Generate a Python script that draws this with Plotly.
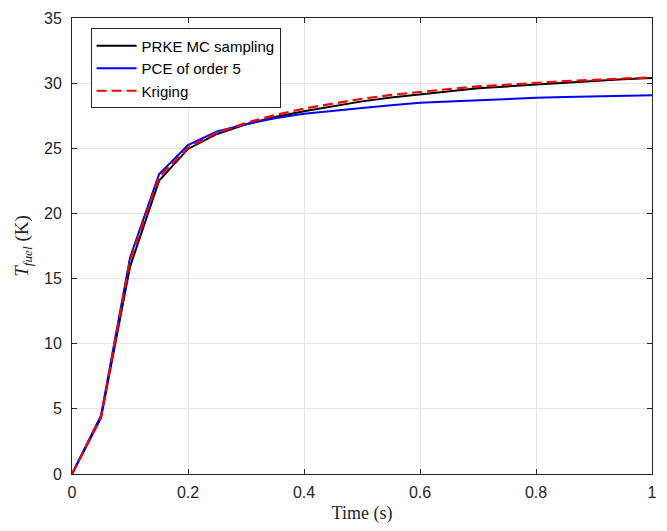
import plotly.graph_objects as go

time = [0.0, 0.05, 0.1, 0.15, 0.2, 0.25, 0.3, 0.35, 0.4, 0.45, 0.5,
        0.55, 0.6, 0.65, 0.7, 0.75, 0.8, 0.85, 0.9, 0.95, 1.0]
prke_mc = [0, 4.3, 15.9, 22.5, 24.95, 26.1, 26.85, 27.4, 27.85, 28.25, 28.6,
           28.9, 29.15, 29.4, 29.6, 29.75, 29.9, 30.05, 30.15, 30.3, 30.4]
pce5 = [0, 4.5, 16.6, 23.0, 25.25, 26.3, 26.85, 27.3, 27.65, 27.9, 28.1,
        28.3, 28.5, 28.6, 28.7, 28.8, 28.87, 28.93, 28.98, 29.03, 29.07]
kriging = [0, 4.4, 16.4, 22.8, 25.05, 26.2, 26.95, 27.55, 28.05, 28.45, 28.8,
           29.1, 29.35, 29.55, 29.75, 29.9, 30.0, 30.15, 30.25, 30.35, 30.45]

x_ticks = [0, 0.2, 0.4, 0.6, 0.8, 1]
x_ticktext = ["0", "0.2", "0.4", "0.6", "0.8", "1"]
y_ticks = [0, 5, 10, 15, 20, 25, 30, 35]

fig = go.Figure()
fig.add_trace(go.Scatter(x=time, y=prke_mc, mode="lines", name="PRKE MC sampling",
                         line=dict(color="black", width=2)))
fig.add_trace(go.Scatter(x=time, y=pce5, mode="lines", name="PCE of order 5",
                         line=dict(color="#0000ff", width=2)))
fig.add_trace(go.Scatter(x=time, y=kriging, mode="lines", name="Kriging",
                         line=dict(color="#ff0000", width=2.2, dash="10px,5px")))

axis_common = dict(
    showline=True, linecolor="#262626", linewidth=1, mirror="ticks",
    ticks="inside", ticklen=5, tickcolor="#262626",
    showgrid=True, gridcolor="#e6e6e6", gridwidth=1, zeroline=False,
    tickfont=dict(family="Liberation Sans, Arial", size=16, color="#262626"),
)

fig.update_xaxes(range=[0, 1], tickvals=x_ticks, ticktext=x_ticktext,
                 ticklabelstandoff=4,
                 title=dict(text="Time (s)", standoff=6,
                            font=dict(family="Liberation Serif, DejaVu Serif", size=18, color="#262626")),
                 **axis_common)
fig.update_yaxes(range=[0, 35], tickvals=y_ticks,
                 ticklabelstandoff=6,
                 title=dict(text="<i>T</i><sub><i>fuel</i></sub> (K)", standoff=10,
                            font=dict(family="Liberation Serif, DejaVu Serif", size=19, color="#262626")),
                 **axis_common)

fig.update_layout(
    width=667, height=531,
    margin=dict(l=72, r=10, t=12, b=57),
    plot_bgcolor="white", paper_bgcolor="white",
    showlegend=True,
    legend=dict(x=0.032, y=0.977, xanchor="left", yanchor="top",
                bgcolor="white", bordercolor="#262626", borderwidth=1,
                font=dict(family="Liberation Sans, Arial", size=15, color="black"),
                tracegroupgap=0, itemwidth=40),
)

fig.write_html("out.html")
